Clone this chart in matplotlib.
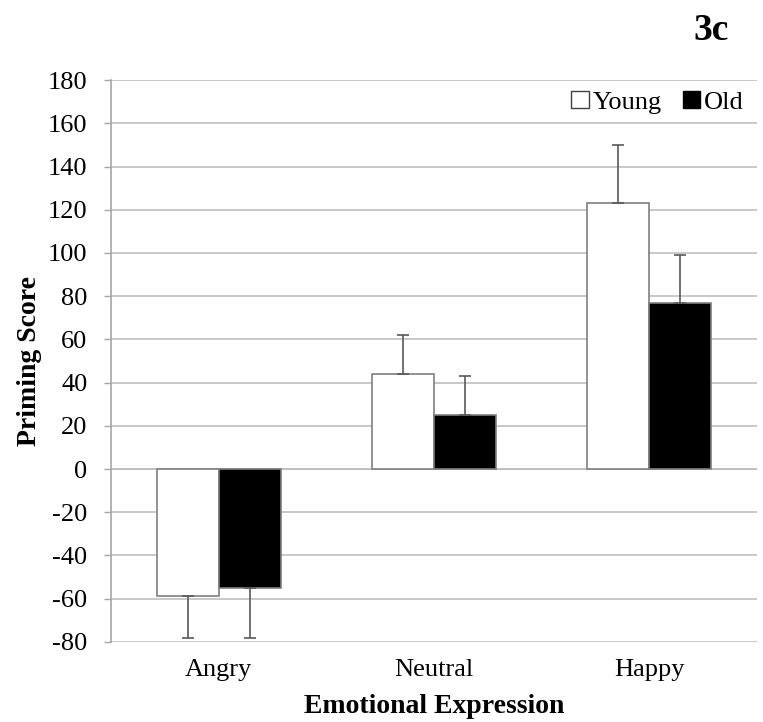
import matplotlib.pyplot as plt
import numpy as np
from matplotlib.patches import Patch

plt.rcParams['font.family'] = ['Liberation Serif', 'DejaVu Serif']

categories = ['Angry', 'Neutral', 'Happy']
young = [-59, 44, 123]
old = [-55, 25, 77]
young_err = [19, 18, 27]
old_err = [23, 18, 22]
yticks = list(range(-80, 181, 20))

fig = plt.figure(figsize=(7.63, 7.22), dpi=100)
ax = fig.add_axes([0.1455, 0.111, 0.8465, 0.778])

x = np.arange(len(categories))
w = 0.288
edge = '#7f7f7f'

# error bars only go away from zero (Excel style)
y_lo = [e if v < 0 else 0 for v, e in zip(young, young_err)]
y_hi = [0 if v < 0 else e for v, e in zip(young, young_err)]
o_lo = [e if v < 0 else 0 for v, e in zip(old, old_err)]
o_hi = [0 if v < 0 else e for v, e in zip(old, old_err)]

ax.bar(x - w / 2, young, w, color='white', edgecolor=edge, linewidth=1.2, zorder=3,
       yerr=[y_lo, y_hi], error_kw=dict(ecolor='#595959', elinewidth=1.2, capsize=4, capthick=1.2))
ax.bar(x + w / 2, old, w, color='black', edgecolor=edge, linewidth=1.2, zorder=3,
       yerr=[o_lo, o_hi], error_kw=dict(ecolor='#595959', elinewidth=1.2, capsize=4, capthick=1.2))

ax.set_xlim(-0.5, 2.5)
ax.set_ylim(-80, 180)
ax.set_yticks(yticks)
ax.set_yticklabels([str(t) for t in yticks], fontsize=19)
ax.set_xticks(x)
ax.set_xticklabels(categories, fontsize=19)
ax.tick_params(axis='x', length=0, pad=12)
ax.tick_params(axis='y', length=5, color='#a6a6a6', width=1, pad=12)

ax.yaxis.grid(True, color='#bfbfbf', linewidth=1.2, zorder=0)
ax.set_axisbelow(True)
for s in ['top', 'right', 'bottom']:
    ax.spines[s].set_visible(False)
ax.spines['left'].set_color('#a6a6a6')
ax.spines['left'].set_linewidth(1.2)
ax.axhline(0, color='#bfbfbf', linewidth=1.2, zorder=1)

ax.set_ylabel('Priming Score', fontsize=20, fontweight='bold', labelpad=4)
ax.set_xlabel('Emotional Expression', fontsize=20, fontweight='bold', labelpad=10)

handles = [Patch(facecolor='white', edgecolor='#404040', label='Young'),
           Patch(facecolor='black', edgecolor='black', label='Old')]
ax.legend(handles=handles, loc='upper right', ncol=2, frameon=False, fontsize=19,
          handlelength=0.65, handleheight=0.65, handletextpad=0.15, columnspacing=0.8,
          bbox_to_anchor=(1.0, 1.005), borderaxespad=0.1)

fig.text(0.932, 0.958, '3c', fontsize=27, fontweight='bold', ha='center', va='center')

fig.savefig('out.png', dpi=100)
